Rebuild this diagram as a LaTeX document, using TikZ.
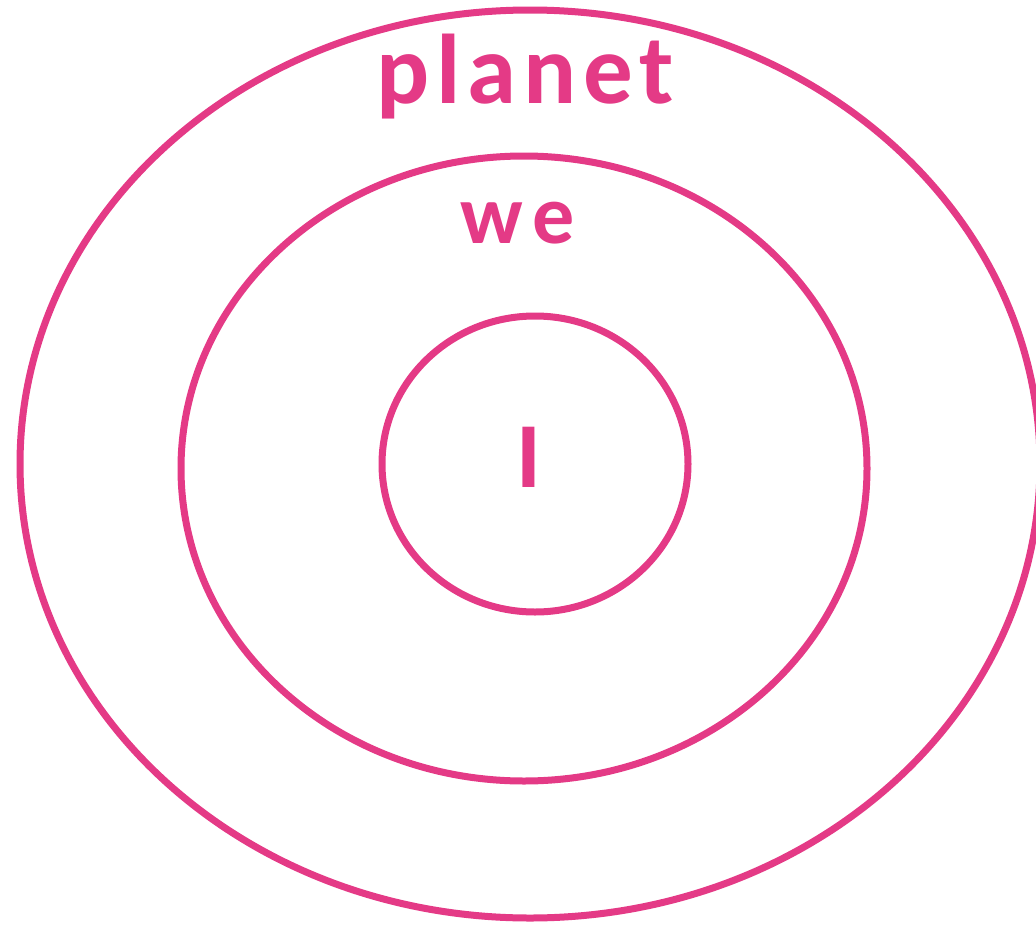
\documentclass[tikz,border=0pt]{standalone}
\usepackage{fontspec}
\setmainfont{Carlito}
\newfontfamily\spacedfont[LetterSpace=7]{Carlito}
\newfontfamily\wespacedfont[LetterSpace=12]{Carlito}
\definecolor{ringpink}{RGB}{228,58,134}
\tikzset{
  ring/.style={draw=ringpink, line width=7pt},
  lbl/.style={text=ringpink, inner sep=0pt, anchor=base, font=\bfseries}
}
\begin{document}
\begin{tikzpicture}[x=1pt,y=-1pt]
\useasboundingbox (0,0) rectangle (1036,926);
\clip (0,0) rectangle (1036,926);
\draw[ring] (530,464) ellipse [x radius=510, y radius=454];
\draw[ring] (524,468.5) ellipse [x radius=343, y radius=312.5];
\draw[ring] (535,464) ellipse [x radius=153, y radius=148];
\node[lbl] (planet) at (525,103) {\fontsize{99}{99}\selectfont\spacedfont\bfseries planet};
\node[lbl] (we) at (518,243) {\fontsize{84}{84}\selectfont\wespacedfont\bfseries we};
\node[lbl] (i) at (529,487) {\fontsize{93}{93}\selectfont\bfseries I};
\end{tikzpicture}
\end{document}
